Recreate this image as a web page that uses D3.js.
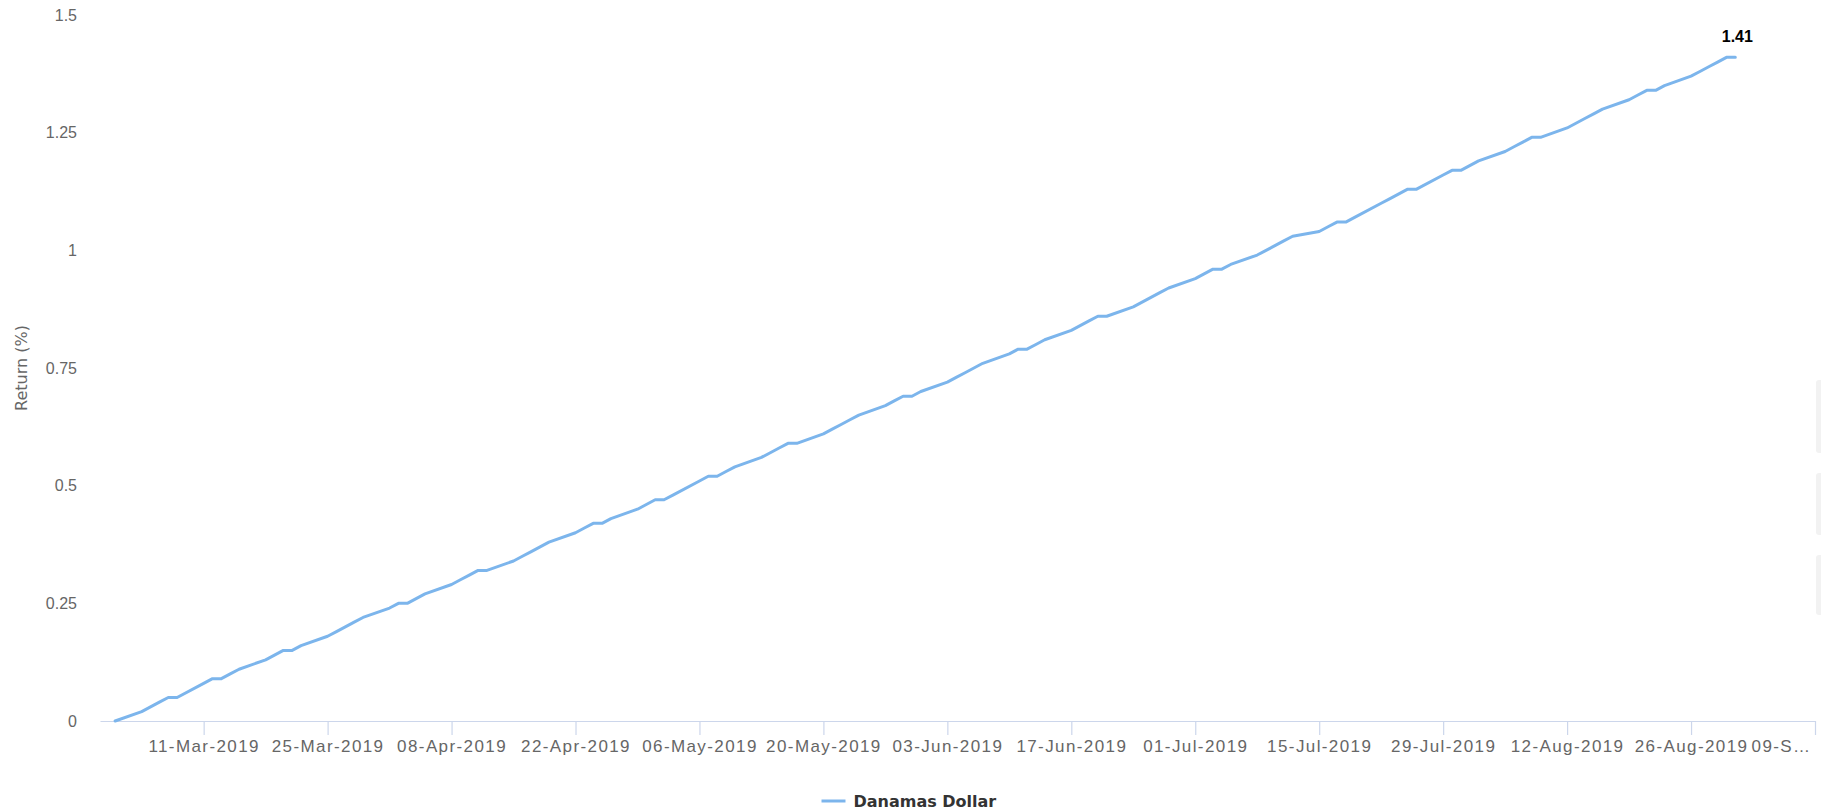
<!DOCTYPE html>
<html>
<head>
<meta charset="utf-8">
<script src="https://cdnjs.cloudflare.com/ajax/libs/d3/7.8.5/d3.min.js"></script>
<style>
	body { margin: 0; background: #fff; }
	svg { display: block; }
</style>
</head>
<body>
<div id="chart"></div>
<script>
const seriesName = "Danamas Dollar";

const dates = [
	"2019-03-01",
	"2019-03-04", "2019-03-05", "2019-03-06", "2019-03-07", "2019-03-08",
	"2019-03-11", "2019-03-12", "2019-03-13", "2019-03-14", "2019-03-15",
	"2019-03-18", "2019-03-19", "2019-03-20", "2019-03-21", "2019-03-22",
	"2019-03-25", "2019-03-26", "2019-03-27", "2019-03-28", "2019-03-29",
	"2019-04-01", "2019-04-02", "2019-04-03", "2019-04-04", "2019-04-05",
	"2019-04-08", "2019-04-09", "2019-04-10", "2019-04-11", "2019-04-12",
	"2019-04-15", "2019-04-16", "2019-04-17", "2019-04-18", "2019-04-19",
	"2019-04-22", "2019-04-23", "2019-04-24", "2019-04-25", "2019-04-26",
	"2019-04-29", "2019-04-30", "2019-05-01", "2019-05-02", "2019-05-03",
	"2019-05-06", "2019-05-07", "2019-05-08", "2019-05-09", "2019-05-10",
	"2019-05-13", "2019-05-14", "2019-05-15", "2019-05-16", "2019-05-17",
	"2019-05-20", "2019-05-21", "2019-05-22", "2019-05-23", "2019-05-24",
	"2019-05-27", "2019-05-28", "2019-05-29", "2019-05-30", "2019-05-31",
	"2019-06-03", "2019-06-04", "2019-06-05", "2019-06-06", "2019-06-07",
	"2019-06-10", "2019-06-11", "2019-06-12", "2019-06-13", "2019-06-14",
	"2019-06-17", "2019-06-18", "2019-06-19", "2019-06-20", "2019-06-21",
	"2019-06-24", "2019-06-25", "2019-06-26", "2019-06-27", "2019-06-28",
	"2019-07-01", "2019-07-02", "2019-07-03", "2019-07-04", "2019-07-05",
	"2019-07-08", "2019-07-09", "2019-07-10", "2019-07-11", "2019-07-12",
	"2019-07-15", "2019-07-16", "2019-07-17", "2019-07-18", "2019-07-19",
	"2019-07-22", "2019-07-23", "2019-07-24", "2019-07-25", "2019-07-26",
	"2019-07-29", "2019-07-30", "2019-07-31", "2019-08-01", "2019-08-02",
	"2019-08-05", "2019-08-06", "2019-08-07", "2019-08-08", "2019-08-09",
	"2019-08-12", "2019-08-13", "2019-08-14", "2019-08-15", "2019-08-16",
	"2019-08-19", "2019-08-20", "2019-08-21", "2019-08-22", "2019-08-23",
	"2019-08-26", "2019-08-27", "2019-08-28", "2019-08-29", "2019-08-30",
	"2019-08-31"
];

const returns = [
	0.00,
	0.02, 0.03, 0.04, 0.05, 0.05,
	0.08, 0.09, 0.09, 0.10, 0.11,
	0.13, 0.14, 0.15, 0.15, 0.16,
	0.18, 0.19, 0.20, 0.21, 0.22,
	0.24, 0.25, 0.25, 0.26, 0.27,
	0.29, 0.30, 0.31, 0.32, 0.32,
	0.34, 0.35, 0.36, 0.37, 0.38,
	0.40, 0.41, 0.42, 0.42, 0.43,
	0.45, 0.46, 0.47, 0.47, 0.48,
	0.51, 0.52, 0.52, 0.53, 0.54,
	0.56, 0.57, 0.58, 0.59, 0.59,
	0.61, 0.62, 0.63, 0.64, 0.65,
	0.67, 0.68, 0.69, 0.69, 0.70,
	0.72, 0.73, 0.74, 0.75, 0.76,
	0.78, 0.79, 0.79, 0.80, 0.81,
	0.83, 0.84, 0.85, 0.86, 0.86,
	0.88, 0.89, 0.90, 0.91, 0.92,
	0.94, 0.95, 0.96, 0.96, 0.97,
	0.99, 1.00, 1.01, 1.02, 1.03,
	1.04, 1.05, 1.06, 1.06, 1.07,
	1.10, 1.11, 1.12, 1.13, 1.13,
	1.16, 1.17, 1.17, 1.18, 1.19,
	1.21, 1.22, 1.23, 1.24, 1.24,
	1.26, 1.27, 1.28, 1.29, 1.30,
	1.32, 1.33, 1.34, 1.34, 1.35,
	1.37, 1.38, 1.39, 1.40, 1.41,
	1.41
];

const xTicks = [
	"2019-03-11", "2019-03-25", "2019-04-08", "2019-04-22", "2019-05-06",
	"2019-05-20", "2019-06-03", "2019-06-17", "2019-07-01", "2019-07-15",
	"2019-07-29", "2019-08-12", "2019-08-26", "2019-09-09"
];
const xExtent = ["2019-02-27T07:00", "2019-09-09T00:00"];
const yTicks = [0, 0.25, 0.5, 0.75, 1, 1.25, 1.5];

const width = 1821, height = 812;
const plot = {left: 100, right: 1815, top: 15, bottom: 721};

const parseDay = d3.timeParse("%Y-%m-%d");
const parseTime = d3.timeParse("%Y-%m-%dT%H:%M");
const data = dates.map((d, i) => ({date: parseDay(d), value: returns[i]}));

const svg = d3.select("#chart").append("svg")
	.attr("width", width)
	.attr("height", height)
	.style("font-family", "'DejaVu Sans', Verdana, sans-serif");

const x = d3.scaleTime()
	.domain(xExtent.map(parseTime))
	.range([plot.left, plot.right]);

const y = d3.scaleLinear()
	.domain([0, 1.5])
	.range([plot.bottom, plot.top]);

// x axis
const fmt = d3.timeFormat("%d-%b-%Y");
const xAxis = svg.append("g")
	.attr("transform", "translate(0," + plot.bottom + ")")
	.call(d3.axisBottom(x)
		.tickValues(xTicks.map(parseDay))
		.tickSize(14)
		.tickPadding(5)
		.tickSizeOuter(0)
		.tickFormat(fmt));

xAxis.select(".domain").attr("stroke", "#ccd6eb").attr("stroke-width", 1.2);
xAxis.selectAll(".tick line").attr("stroke", "#ccd6eb").attr("stroke-width", 1.2);
xAxis.selectAll(".tick text")
	.attr("fill", "#666666")
	.style("font-size", "17px")
	.style("letter-spacing", "1.4px");

// last label is cut at the chart edge
xAxis.selectAll(".tick text")
	.filter((d, i, nodes) => i === nodes.length - 1)
	.text(d => fmt(d).slice(0, 4) + "…")
	.attr("text-anchor", "end")
	.attr("x", -4);

// y axis labels only
const yAxis = svg.append("g")
	.attr("transform", "translate(" + (plot.left - 23) + ",0)")
	.call(d3.axisLeft(y)
		.tickValues(yTicks)
		.tickSize(0)
		.tickPadding(0)
		.tickFormat(d => String(d)));

yAxis.select(".domain").remove();
yAxis.selectAll(".tick text")
	.attr("fill", "#666666")
	.style("font-size", "16px");

svg.append("text")
	.attr("transform", "translate(21," + ((plot.top + plot.bottom) / 2) + ") rotate(-90)")
	.attr("text-anchor", "middle")
	.attr("dy", "0.35em")
	.attr("fill", "#666666")
	.style("font-size", "16px")
	.text("Return (%)");

// the series line
const line = d3.line()
	.x(d => x(d.date))
	.y(d => y(d.value));

svg.append("path")
	.datum(data)
	.attr("fill", "none")
	.attr("stroke", "#7cb5ec")
	.attr("stroke-width", 3)
	.attr("stroke-linejoin", "round")
	.attr("stroke-linecap", "round")
	.attr("d", line);

// label on the last point
const last = data[data.length - 1];
svg.append("text")
	.attr("x", x(last.date) + 2)
	.attr("y", y(last.value) - 15)
	.attr("text-anchor", "middle")
	.attr("fill", "#000")
	.attr("stroke", "#fff")
	.attr("stroke-width", 2)
	.attr("paint-order", "stroke")
	.style("font-family", "'Liberation Sans', Arial, sans-serif")
	.style("font-size", "16px")
	.style("font-weight", "bold")
	.text(last.value.toFixed(2));

// legend
const legend = svg.append("g")
	.attr("transform", "translate(" + (width / 2) + ",801)");

legend.append("line")
	.attr("x1", -89).attr("x2", -65)
	.attr("y1", 0).attr("y2", 0)
	.attr("stroke", "#7cb5ec")
	.attr("stroke-width", 3);

legend.append("text")
	.attr("x", -57)
	.attr("dy", "0.35em")
	.attr("fill", "#333333")
	.style("font-size", "16px")
	.style("font-weight", "bold")
	.text(seriesName);

// grey tabs peeking in at the right edge
[[380, 453], [473, 535], [555, 615]].forEach(function(b) {
	svg.append("rect")
		.attr("x", 1816)
		.attr("y", b[0])
		.attr("width", 10)
		.attr("height", b[1] - b[0])
		.attr("rx", 3)
		.attr("fill", "#f2f2f2");
});
</script>
</body>
</html>
